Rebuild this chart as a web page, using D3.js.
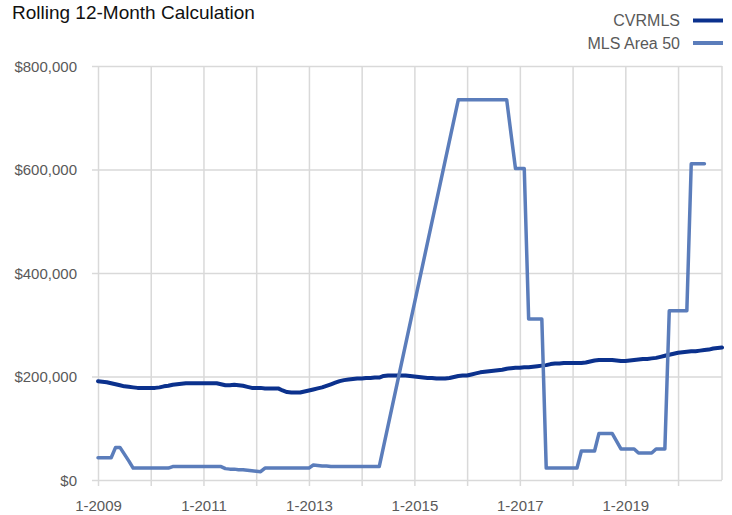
<!DOCTYPE html>
<html>
<head>
<meta charset="utf-8">
<script src="https://cdn.jsdelivr.net/npm/d3@7/dist/d3.min.js"></script>
<style>
  html, body { margin: 0; padding: 0; background: #fff; }
  svg { display: block; font-family: "Liberation Sans", Arial, sans-serif; }
</style>
</head>
<body>
<svg id="chart" width="732" height="515"></svg>
<script>
// Monthly data, Jan 2009 onwards (values in thousands of dollars)
const startYear = 2009;
const seriesNames = ["CVRMLS", "MLS Area 50"];
const seriesColors = ["#0b318d", "#5b7dbb"];

const cvrmls = [
  191,190,189,187,185,183,181,180,179,178,178,178,
  178,178,179,181,182,184,185,186,187,187,187,187,
  187,187,187,187,185,183,183,184,183,182,180,178,
  178,178,177,177,177,177,173,170,169,169,169,171,
  173,175,177,179,182,185,188,191,193,194,195,196,
  196,197,197,198,198,201,202,202,202,202,202,201,
  200,199,198,197,197,196,196,196,197,199,201,202,
  202,204,206,208,209,210,211,212,213,215,216,217,
  217,218,218,219,220,221,222,224,225,225,226,226,
  226,226,226,227,229,231,232,232,232,232,231,230,
  230,231,232,233,234,234,235,236,238,240,242,244,
  246,247,248,249,249,250,251,252,254,255,256
];

const mlsArea50 = [
  43,43,43,43,63,63,50,37,23,23,23,23,
  23,23,23,23,23,26,26,26,26,26,26,26,
  26,26,26,26,26,22,21,21,20,20,19,18,
  17,16,23,23,23,23,23,23,23,23,23,23,
  23,29,28,27,27,26,26,26,26,26,26,26,
  26,26,26,26,26,null,null,null,null,null,null,null,
  null,null,null,null,null,null,null,null,null,null,735,735,
  735,735,735,735,735,735,735,735,735,735,668,602,
  602,602,311,311,311,311,23,23,23,23,23,23,
  23,23,56,56,56,56,90,90,90,90,75,60,
  60,60,60,52,52,52,52,60,60,60,327,327,
  327,327,327,611,611,611,611
];

const yTicks = [0, 200, 400, 600, 800];
const xGridMonths = [0,12,24,36,48,60,72,84,96,108,120,132];
const xTickLabels = ["1-2009","1-2011","1-2013","1-2015","1-2017","1-2019"];

const svg = d3.select("#chart");
const pLeft = 98, pRight = 722, pTop = 66, pBottom = 480;

const x = d3.scaleLinear().domain([0, cvrmls.length - 1]).range([pLeft, pRight]);
const y = d3.scaleLinear().domain([0, 800]).range([pBottom, pTop]);

// Y grid + ticks + labels
const yAxis = svg.append("g")
  .attr("transform", `translate(${pLeft},0)`)
  .call(d3.axisLeft(y).tickValues(yTicks)
    .tickFormat(d => "$" + d3.format(",")(d * 1000)));
yAxis.select(".domain").remove();
yAxis.selectAll(".tick line")
  .attr("x1", -6).attr("x2", pRight - pLeft)
  .attr("stroke", "#d9d9d9").attr("stroke-width", 1.5);
yAxis.selectAll(".tick text")
  .attr("x", -21).attr("dy", "0.35em")
  .attr("fill", "#595959").style("font-size", "15px");

// X grid + ticks + labels
const xAxis = svg.append("g")
  .attr("transform", `translate(0,${pBottom})`)
  .call(d3.axisBottom(x).tickValues(xGridMonths)
    .tickFormat(d => (d % 24 === 0) ? xTickLabels[d / 24] : ""));
xAxis.select(".domain").remove();
xAxis.selectAll(".tick line")
  .attr("y1", 6).attr("y2", pTop - pBottom)
  .attr("stroke", "#d9d9d9").attr("stroke-width", 1.5);
xAxis.selectAll(".tick text")
  .attr("y", 31).attr("dy", 0)
  .attr("fill", "#595959").style("font-size", "15px");

// right border
svg.append("line")
  .attr("x1", pRight).attr("x2", pRight)
  .attr("y1", pTop).attr("y2", pBottom)
  .attr("stroke", "#d9d9d9").attr("stroke-width", 1.5);

// Lines
const line = d3.line().x(d => x(d.i)).y(d => y(d.v));
const toPts = arr => arr.map((v, i) => ({i, v})).filter(d => d.v != null);

svg.append("path")
  .datum(toPts(cvrmls))
  .attr("d", line)
  .attr("fill", "none")
  .attr("stroke", seriesColors[0])
  .attr("stroke-width", 4)
  .attr("stroke-linejoin", "round")
  .attr("stroke-linecap", "round");

svg.append("path")
  .datum(toPts(mlsArea50))
  .attr("d", line)
  .attr("fill", "none")
  .attr("stroke", seriesColors[1])
  .attr("stroke-width", 3.5)
  .attr("stroke-linejoin", "round")
  .attr("stroke-linecap", "round");

// Title
svg.append("text")
  .attr("x", 12).attr("y", 19)
  .attr("fill", "#111")
  .style("font-size", "19px")
  .text("Rolling 12-Month Calculation");

// Legend
const legendY = [20.5, 43];
seriesNames.forEach((name, k) => {
  svg.append("text")
    .attr("x", 680).attr("y", legendY[k])
    .attr("dy", "0.35em")
    .attr("text-anchor", "end")
    .attr("fill", "#595959")
    .style("font-size", "16px")
    .text(name);
  svg.append("line")
    .attr("x1", 693).attr("x2", 723)
    .attr("y1", legendY[k]).attr("y2", legendY[k])
    .attr("stroke", seriesColors[k])
    .attr("stroke-width", 4);
});
</script>
</body>
</html>
